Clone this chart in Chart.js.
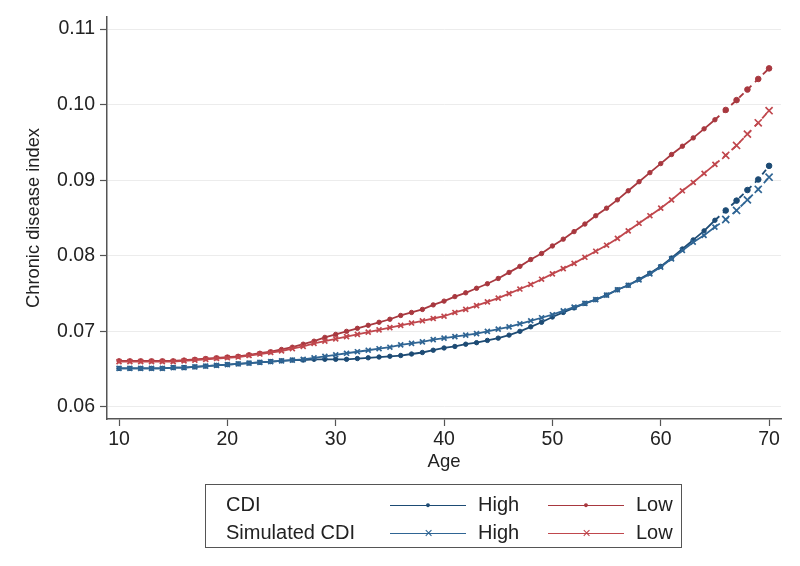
<!DOCTYPE html>
<html>
<head>
<meta charset="utf-8">
<title>Chronic disease index by age</title>
<script src="https://cdn.jsdelivr.net/npm/chart.js@4/dist/chart.umd.min.js"></script>
<style>
    body { margin: 0; background: #fff; font-family: "Liberation Sans", Arial, sans-serif; }
    #wrap { position: relative; width: 800px; height: 566px; }
    #legend {
        position: absolute; left: 205px; top: 484px; width: 477px; height: 64px;
        border: 1px solid #555; box-sizing: border-box; font-size: 20px; color: #222;
    }
    #legend .row { position: absolute; left: 0; height: 24px; width: 100%; }
    #legend .name { position: absolute; left: 20px; top: 0; }
    #legend .sample { position: absolute; top: 12px; width: 76px; height: 0; border-top: 1.5px solid; }
    #legend .mark { position: absolute; left: 33px; top: -12px; line-height: 22px; width: 10px; text-align: center; }
    #legend .lab { position: absolute; top: 0; }
</style>
</head>
<body>
<div id="wrap">
    <canvas id="chart" width="800" height="566"></canvas>
    <div id="legend"></div>
</div>
<script>
// Tuổi từ 10 đến 70
const ages = [10, 11, 12, 13, 14, 15, 16, 17, 18, 19, 20, 21, 22, 23, 24, 25, 26, 27, 28, 29,
    30, 31, 32, 33, 34, 35, 36, 37, 38, 39, 40, 41, 42, 43, 44, 45, 46, 47, 48, 49,
    50, 51, 52, 53, 54, 55, 56, 57, 58, 59, 60, 61, 62, 63, 64, 65, 66, 67, 68, 69, 70];

// CDI - High
const cdiHigh = [0.0651, 0.0651, 0.0651, 0.0651, 0.0651, 0.0652, 0.0652, 0.0653, 0.0654, 0.0655,
    0.0656, 0.0657, 0.0658, 0.0659, 0.0660, 0.0661, 0.0662, 0.0662, 0.0663, 0.0663,
    0.0663, 0.0663, 0.0664, 0.0665, 0.0666, 0.0667, 0.0668, 0.0670, 0.0672, 0.0675,
    0.0678, 0.0680, 0.0683, 0.0685, 0.0688, 0.0691, 0.0695, 0.0700, 0.0706, 0.0712,
    0.0719, 0.0725, 0.0731, 0.0737, 0.0742, 0.0748, 0.0755, 0.0761, 0.0769, 0.0777,
    0.0786, 0.0797, 0.0809, 0.0821, 0.0833, 0.0847, 0.0860, 0.0873, 0.0887, 0.0901, 0.0919];

// CDI - Low
const cdiLow = [0.0661, 0.0661, 0.0661, 0.0661, 0.0661, 0.0661, 0.0662, 0.0663, 0.0664, 0.0665,
    0.0666, 0.0667, 0.0669, 0.0671, 0.0673, 0.0676, 0.0679, 0.0683, 0.0687, 0.0692,
    0.0696, 0.0700, 0.0704, 0.0708, 0.0712, 0.0716, 0.0721, 0.0725, 0.0729, 0.0735,
    0.0740, 0.0746, 0.0751, 0.0757, 0.0763, 0.0770, 0.0778, 0.0786, 0.0795, 0.0803,
    0.0813, 0.0822, 0.0832, 0.0842, 0.0853, 0.0863, 0.0874, 0.0886, 0.0898, 0.0910,
    0.0922, 0.0934, 0.0945, 0.0956, 0.0968, 0.0980, 0.0993, 0.1006, 0.1020, 0.1034, 0.1048];

// Simulated CDI - High
const simHigh = [0.0651, 0.0651, 0.0651, 0.0651, 0.0651, 0.0652, 0.0652, 0.0653, 0.0654, 0.0655,
    0.0656, 0.0657, 0.0658, 0.0659, 0.0660, 0.0661, 0.0662, 0.0663, 0.0665, 0.0667,
    0.0669, 0.0671, 0.0673, 0.0675, 0.0677, 0.0679, 0.0682, 0.0684, 0.0686, 0.0689,
    0.0691, 0.0693, 0.0695, 0.0697, 0.0700, 0.0703, 0.0706, 0.0710, 0.0714, 0.0718,
    0.0722, 0.0727, 0.0732, 0.0737, 0.0742, 0.0748, 0.0755, 0.0761, 0.0768, 0.0776,
    0.0785, 0.0796, 0.0807, 0.0818, 0.0827, 0.0838, 0.0848, 0.0860, 0.0874, 0.0888, 0.0904];

// Simulated CDI - Low
const simLow = [0.0660, 0.0660, 0.0660, 0.0660, 0.0660, 0.0660, 0.0661, 0.0662, 0.0663, 0.0664,
    0.0665, 0.0666, 0.0668, 0.0670, 0.0672, 0.0674, 0.0677, 0.0680, 0.0684, 0.0687,
    0.0690, 0.0693, 0.0696, 0.0699, 0.0702, 0.0705, 0.0708, 0.0711, 0.0714, 0.0717,
    0.0720, 0.0725, 0.0729, 0.0734, 0.0739, 0.0744, 0.0750, 0.0756, 0.0762, 0.0769,
    0.0776, 0.0783, 0.0790, 0.0798, 0.0806, 0.0814, 0.0823, 0.0833, 0.0843, 0.0853,
    0.0863, 0.0874, 0.0886, 0.0897, 0.0909, 0.0921, 0.0933, 0.0946, 0.0961, 0.0976, 0.0992];

const xTicks = [10, 20, 30, 40, 50, 60, 70];
const yTicks = [0.06, 0.07, 0.08, 0.09, 0.10, 0.11];

// Từ tuổi này trở đi đường nối là nét đứt
const dashFrom = 65;

const navy = '#1d4b74';
const blue = '#2f6594';
const maroon = '#a8383f';
const red = '#c0474d';

function makeSet(label, values, color, style, radius, bigRadius) {
    return {
        label: label,
        data: ages.map((a, i) => ({ x: a, y: values[i] })),
        borderColor: color,
        backgroundColor: color,
        borderWidth: 1.8,
        pointStyle: style,
        pointRadius: ctx => ages[ctx.dataIndex] > dashFrom ? bigRadius : radius,
        pointBorderWidth: style === 'crossRot' ? 1.7 : 1,
        pointBorderColor: color,
        pointBackgroundColor: color,
        tension: 0,
        segment: {
            borderDash: ctx => ctx.p0.parsed.x >= dashFrom ? [6, 5] : undefined
        }
    };
}

const family = '"Liberation Sans", Arial, sans-serif';
const tickFont = { family: family, size: 19.5 };

new Chart(document.getElementById('chart').getContext('2d'), {
    type: 'line',
    data: {
        datasets: [
            makeSet('Simulated CDI Low', simLow, red, 'crossRot', 3.5, 5),
            makeSet('CDI Low', cdiLow, maroon, 'circle', 2.2, 2.8),
            makeSet('Simulated CDI High', simHigh, blue, 'crossRot', 3.5, 5),
            makeSet('CDI High', cdiHigh, navy, 'circle', 2.2, 2.8)
        ]
    },
    options: {
        responsive: false,
        animation: false,
        layout: { padding: { top: 17, right: 19, bottom: 93, left: 0 } },
        plugins: {
            legend: { display: false },
            tooltip: { enabled: false }
        },
        scales: {
            x: {
                type: 'linear',
                min: 8.89,
                max: 71.1,
                afterBuildTicks: scale => { scale.ticks = xTicks.map(v => ({ value: v })); },
                afterFit: scale => { scale.height = 54; },
                grid: { drawOnChartArea: false, drawTicks: true, tickLength: 7, tickColor: '#555', tickWidth: 1.2 },
                border: { display: true, color: '#555', width: 1.5 },
                ticks: { color: '#222', font: tickFont, padding: 2, maxRotation: 0 },
                title: { display: true, text: 'Age', color: '#222', font: { family: family, size: 18.5 }, padding: { top: 0, bottom: 0 } }
            },
            y: {
                type: 'linear',
                min: 0.0584,
                max: 0.1116,
                afterBuildTicks: scale => { scale.ticks = yTicks.map(v => ({ value: v })); },
                afterFit: scale => { scale.width = 107; },
                grid: { color: '#ececec', lineWidth: 1, drawTicks: true, tickLength: 7, tickColor: '#555', tickWidth: 1.2 },
                border: { display: true, color: '#555', width: 1.5 },
                ticks: { color: '#222', font: tickFont, padding: 5, callback: v => v.toFixed(2) },
                title: { display: true, text: 'Chronic disease index', color: '#222', font: { family: family, size: 18.3 }, padding: { top: 23, bottom: 0 } }
            }
        }
    }
});

// Chú giải dạng HTML
const legendRows = [
    { name: 'CDI', mark: '\u25CF', size: '9px', top: 8 },
    { name: 'Simulated CDI', mark: '\u2715', size: '11px', top: 36 }
];
const legendCols = [
    { label: 'High', color: navy, simColor: blue, left: 184, textLeft: 272 },
    { label: 'Low', color: maroon, simColor: red, left: 342, textLeft: 430 }
];
const legendBox = document.getElementById('legend');
legendRows.forEach((row, r) => {
    const div = document.createElement('div');
    div.className = 'row';
    div.style.top = row.top + 'px';
    const name = document.createElement('span');
    name.className = 'name';
    name.textContent = row.name;
    div.appendChild(name);
    legendCols.forEach(col => {
        const c = r === 0 ? col.color : col.simColor;
        const sample = document.createElement('div');
        sample.className = 'sample';
        sample.style.left = col.left + 'px';
        sample.style.borderColor = c;
        const mark = document.createElement('span');
        mark.className = 'mark';
        mark.style.color = c;
        mark.style.fontSize = row.size;
        mark.textContent = row.mark;
        sample.appendChild(mark);
        div.appendChild(sample);
        const lab = document.createElement('span');
        lab.className = 'lab';
        lab.style.left = col.textLeft + 'px';
        lab.textContent = col.label;
        div.appendChild(lab);
    });
    legendBox.appendChild(div);
});
</script>
</body>
</html>
